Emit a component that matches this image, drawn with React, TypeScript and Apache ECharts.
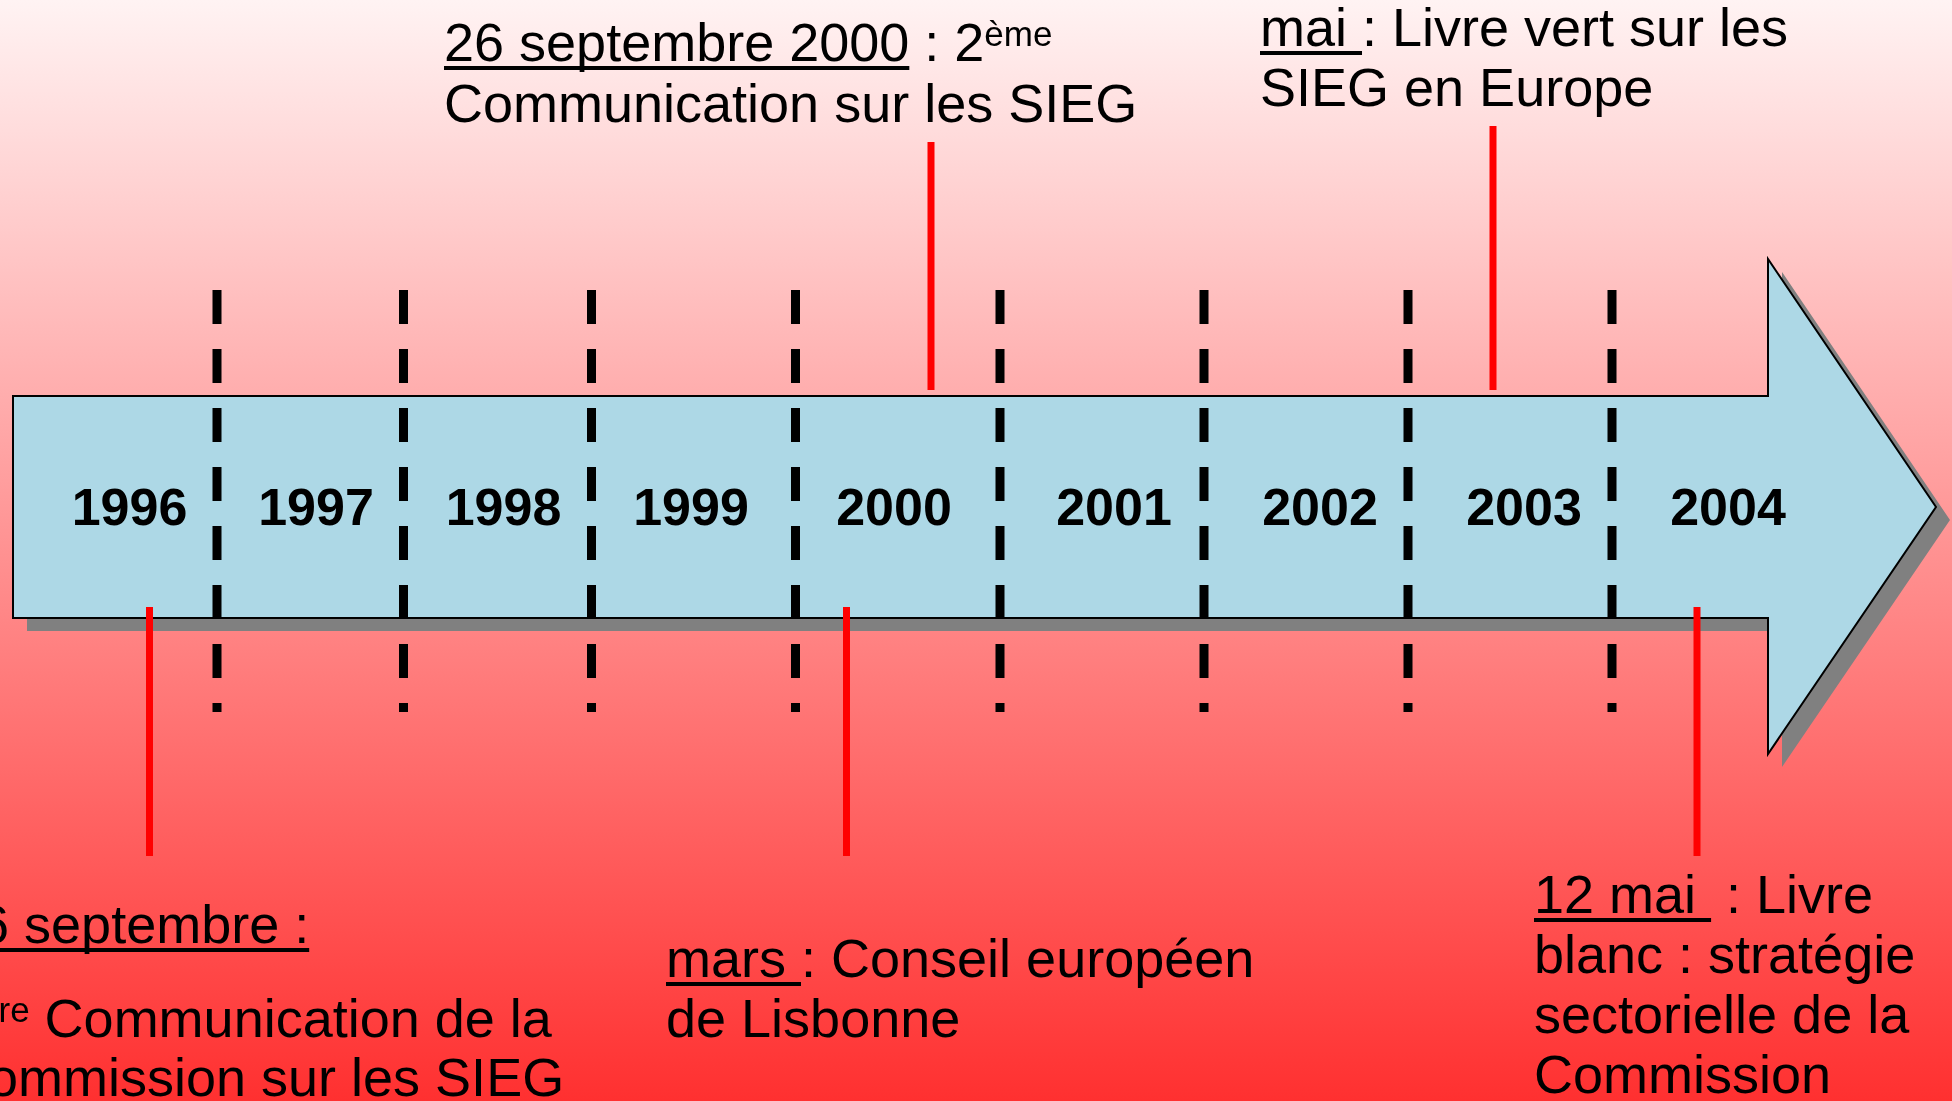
import React, { useEffect, useRef } from 'react';
import * as echarts from 'echarts';

const W = 1952;
const H = 1101;

// Timeline (axis units = position along the slide)
const years = ['1996', '1997', '1998', '1999', '2000', '2001', '2002', '2003', '2004'];
const yearPositions = [129.5, 316, 503.5, 691, 894, 1114, 1320, 1524, 1728];
const dividerPositions = [217, 403.5, 591.5, 795.5, 1000, 1204, 1408, 1612];
const dividerExtent = [290, 712];

// Arrow outline: tail, head base, tip  /  head top, body top, tip, body bottom, head bottom
const arrowXs = [13, 1768, 1936];
const arrowYs = [259, 396, 507, 618, 754];
const shadowOffset = [14, 13];

// Events
const eventPositions = [149.5, 846.5, 931, 1493, 1697];
const eventStemStart = [607, 607, 142, 126, 607];
const eventStemEnd = [856, 856, 390, 390, 856];
const eventTextLeft = [-51, 666, 444, 1260, 1534];
const eventBaselines = [
  [943, 1037, 1096],
  [977, 1037],
  [61, 122],
  [46, 106],
  [913, 973, 1033, 1093],
];
// _..._ = underlined, ^...^ = superscript
const eventTexts = [
  ['_26 septembre :_', '1^ère^ Communication de la', 'Commission sur les SIEG'],
  ['_mars _: Conseil européen', 'de Lisbonne'],
  ['_26 septembre 2000_ : 2^ème^', 'Communication sur les SIEG'],
  ['_mai _: Livre vert sur les', 'SIEG en Europe'],
  ['_12 mai _ : Livre', 'blanc : stratégie', 'sectorielle de la', 'Commission'],
];

const FONT = '"Liberation Sans", Arial, sans-serif';
const MAIN = 54;
const SUP = 35;
const SUP_RAISE = 15;
const YEAR = 52;
const CENTRAL = 0.3467;

let ctx: CanvasRenderingContext2D | null = null;
function textWidth(t: string, size: number, weight = 'normal') {
  if (!ctx) ctx = document.createElement('canvas').getContext('2d');
  if (!ctx) return t.length * size * 0.5;
  ctx.font = `${weight} ${size}px "Liberation Sans", Arial, sans-serif`;
  return ctx.measureText(t).width;
}

type Seg = { t: string; u: boolean; sup: boolean };
function parse(line: string): Seg[] {
  const segs: Seg[] = [];
  let cur = '';
  let u = false;
  let sup = false;
  for (const ch of line) {
    if (ch === '_' || ch === '^') {
      if (cur) segs.push({ t: cur, u, sup });
      cur = '';
      if (ch === '_') u = !u;
      else sup = !sup;
    } else cur += ch;
  }
  if (cur) segs.push({ t: cur, u, sup });
  return segs;
}

export default function App() {
  const ref = useRef<HTMLDivElement>(null);
  useEffect(() => {
    document.body.style.margin = '0';
    if (!ref.current) return;
    const chart = echarts.init(ref.current, null, { renderer: 'svg' });

    const arrowPoints = (api: any, dx: number, dy: number) => {
      const [x0, x1, x2] = arrowXs;
      const [yHT, yBT, yTip, yBB, yHB] = arrowYs;
      return [
        [x0, yBT], [x1, yBT], [x1, yHT], [x2, yTip], [x1, yHB], [x1, yBB], [x0, yBB],
      ].map((p) => {
        const c = api.coord([p[0] + dx, p[1] + dy]);
        return [c[0], c[1]];
      });
    };

    chart.setOption({
      animation: false,
      tooltip: { show: false },
      grid: { left: 0, right: 0, top: 0, bottom: 0, containLabel: false },
      xAxis: { type: 'value', min: 0, max: W, show: false },
      yAxis: { type: 'value', min: 0, max: H, inverse: true, show: false },
      graphic: [
        {
          type: 'rect',
          silent: true,
          z: -100,
          shape: { x: 0, y: 0, width: W, height: H },
          style: {
            fill: new echarts.graphic.LinearGradient(0, 0, 0, 1, [
              { offset: 0, color: '#fff3f3' },
              { offset: 1, color: '#ff3030' },
            ]),
          },
        },
      ],
      series: [
        {
          type: 'custom',
          name: 'arrow',
          silent: true,
          z: 2,
          data: [[arrowXs[0], arrowYs[1]]],
          renderItem: (_p: any, api: any) => ({
            type: 'group',
            children: [
              {
                type: 'polygon',
                shape: { points: arrowPoints(api, shadowOffset[0], shadowOffset[1]) },
                style: { fill: '#808080' },
              },
              {
                type: 'polygon',
                shape: { points: arrowPoints(api, 0, 0) },
                style: { fill: '#add8e6', stroke: '#000', lineWidth: 2, lineJoin: 'miter' },
              },
            ],
          }),
        },
        {
          type: 'custom',
          name: 'stems',
          silent: true,
          z: 3,
          data: eventPositions.map((p, i) => [p, eventStemStart[i], eventStemEnd[i]]),
          renderItem: (_p: any, api: any) => {
            const a = api.coord([api.value(0), api.value(1)]);
            const b = api.coord([api.value(0), api.value(2)]);
            return {
              type: 'line',
              shape: { x1: a[0], y1: a[1], x2: b[0], y2: b[1] },
              style: { stroke: '#ff0000', lineWidth: 7 },
            };
          },
        },
        {
          type: 'custom',
          name: 'dividers',
          silent: true,
          z: 4,
          data: dividerPositions.map((p) => [p, dividerExtent[0], dividerExtent[1]]),
          renderItem: (_p: any, api: any) => {
            const a = api.coord([api.value(0), api.value(1)]);
            const b = api.coord([api.value(0), api.value(2)]);
            return {
              type: 'line',
              shape: { x1: a[0], y1: a[1], x2: b[0], y2: b[1] },
              style: { stroke: '#000', lineWidth: 9, lineDash: [34, 25], lineCap: 'butt' },
            };
          },
        },
        {
          type: 'custom',
          name: 'years',
          silent: true,
          z: 5,
          data: yearPositions.map((p, i) => [p, arrowYs[2], i]),
          renderItem: (_p: any, api: any) => {
            const c = api.coord([api.value(0), api.value(1)]);
            return {
              type: 'text',
              style: {
                text: years[api.value(2)],
                x: c[0],
                y: c[1],
                fill: '#000',
                fontSize: YEAR,
                fontWeight: 'bold',
                fontFamily: FONT,
                align: 'center',
                verticalAlign: 'middle',
              },
            };
          },
        },
        {
          type: 'custom',
          name: 'events',
          silent: true,
          z: 6,
          data: eventTextLeft.map((x, i) => [x, eventBaselines[i][0], i]),
          renderItem: (_p: any, api: any) => {
            const i = api.value(2);
            const children: any[] = [];
            eventTexts[i].forEach((line, j) => {
              const base = api.coord([eventTextLeft[i], eventBaselines[i][j]]);
              let x = base[0];
              parse(line).forEach((s) => {
                const size = s.sup ? SUP : MAIN;
                const bl = base[1] - (s.sup ? SUP_RAISE : 0);
                const w = textWidth(s.t, size);
                children.push({
                  type: 'text',
                  style: {
                    text: s.t,
                    x,
                    y: bl - CENTRAL * size,
                    fill: '#000',
                    fontSize: size,
                    fontFamily: FONT,
                    align: 'left',
                    verticalAlign: 'middle',
                  },
                });
                if (s.u) {
                  children.push({
                    type: 'line',
                    shape: { x1: x, y1: bl + 7, x2: x + w, y2: bl + 7 },
                    style: { stroke: '#000', lineWidth: 4 },
                  });
                }
                x += w;
              });
            });
            return { type: 'group', children };
          },
        },
      ],
    });
    return () => chart.dispose();
  }, []);

  return (
    <div style={{ position: 'fixed', left: 0, top: 0, width: W, height: H, overflow: 'hidden' }}>
      <div ref={ref} style={{ width: W, height: H }} />
    </div>
  );
}
